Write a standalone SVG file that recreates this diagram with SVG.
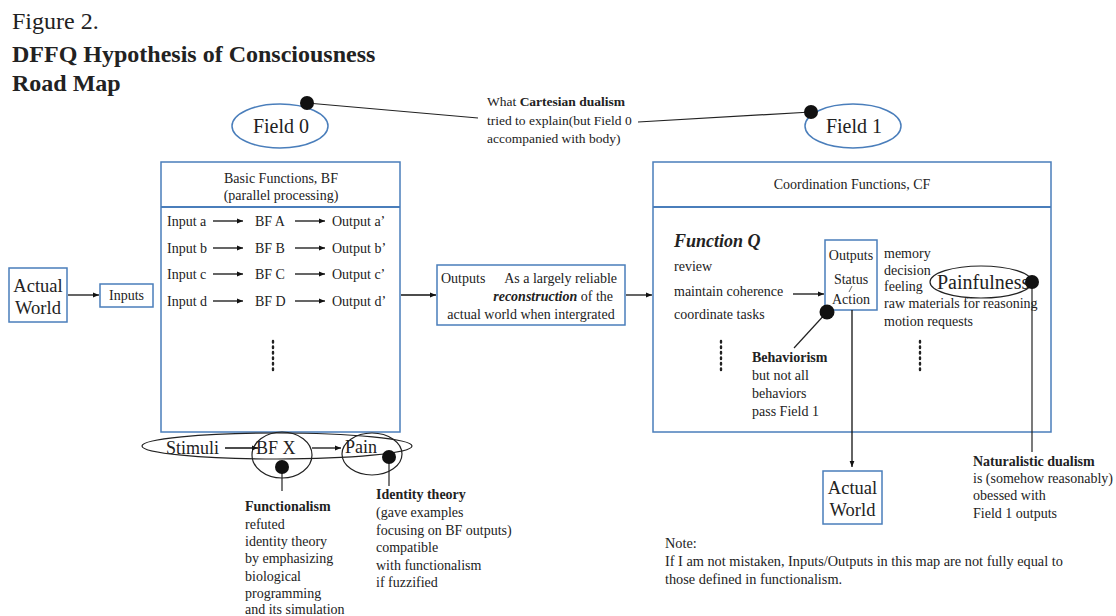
<svg xmlns="http://www.w3.org/2000/svg" width="1116" height="616" viewBox="0 0 1116 616">
<defs>
<marker id="ah" viewBox="0 0 10 10" refX="10" refY="5" markerWidth="8" markerHeight="6" markerUnits="userSpaceOnUse" orient="auto"><path d="M0,1 L10,5 L0,9 Z" fill="#111"/></marker>
<style>
text{font-family:"Liberation Serif","Times New Roman",serif;fill:#222;font-size:14px}
.b{font-weight:bold}
.bi{font-weight:bold;font-style:italic}
.box{fill:#fff;stroke:#4a7ebb;stroke-width:1.5}
.bell{fill:none;stroke:#4a7ebb;stroke-width:1.5}
.ell{fill:none;stroke:#222;stroke-width:1.2}
.ln{stroke:#222;stroke-width:1.2;fill:none}
.ar{stroke:#111;stroke-width:1.3;fill:none;marker-end:url(#ah)}
.dot{fill:#111}
.dots{stroke:#222;stroke-width:2.4;stroke-dasharray:1.5 4;stroke-linecap:round}
.big{font-size:18px}
.aw{font-size:18.5px}
.fld{font-size:20px}
.ttl{font-size:24px}
.sm{font-size:13.5px}
.nt{font-size:14.3px}
</style>
</defs>
<rect width="1116" height="616" fill="#fff"/>

<g id="title">
<text x="12" y="29" class="ttl">Figure 2.</text>
<text x="12" y="62" class="ttl b">DFFQ Hypothesis of Consciousness</text>
<text x="12" y="91" class="ttl b">Road Map</text>
</g>

<g id="field0">
<ellipse cx="280" cy="126" rx="48" ry="22" class="bell"/>
<text x="281" y="133" text-anchor="middle" class="fld">Field 0</text>
</g>
<g id="field1">
<ellipse cx="853" cy="126" rx="48" ry="22" class="bell"/>
<text x="854" y="133" text-anchor="middle" class="fld">Field 1</text>
</g>

<g id="cartesian">
<text x="487" y="106" class="sm">What <tspan class="b">Cartesian dualism</tspan></text>
<text x="487" y="125" class="sm">tried to explain(but Field 0</text>
<text x="487" y="143" class="sm">accompanied with body)</text>
</g>

<g id="actual-world-1">
<rect x="9" y="268" width="58" height="54" class="box"/>
<text x="38" y="292" text-anchor="middle" class="aw">Actual</text>
<text x="38" y="314" text-anchor="middle" class="aw">World</text>
</g>

<g id="inputs">
<rect x="100" y="284" width="53" height="23" class="box"/>
<text x="126.5" y="300" text-anchor="middle">Inputs</text>
</g>

<g id="bf">
<rect x="161" y="162" width="239" height="270" class="box"/>
<line x1="161" y1="207" x2="400" y2="207" stroke="#4a7ebb" stroke-width="2.2"/>
<text x="281" y="183" text-anchor="middle">Basic Functions, BF</text>
<text x="281" y="200" text-anchor="middle">(parallel processing)</text>
<text x="167" y="226">Input a</text>
<text x="255" y="226">BF A</text>
<text x="332" y="226">Output a’</text>
<text x="167" y="253">Input b</text>
<text x="255" y="253">BF B</text>
<text x="332" y="253">Output b’</text>
<text x="167" y="279">Input c</text>
<text x="255" y="279">BF C</text>
<text x="332" y="279">Output c’</text>
<text x="167" y="306">Input d</text>
<text x="255" y="306">BF D</text>
<text x="332" y="306">Output d’</text>
<line x1="273" y1="341" x2="273" y2="372" class="dots"/>
</g>

<g id="outputs">
<rect x="437" y="265" width="188" height="60" class="box"/>
<text x="441" y="283">Outputs</text>
<text x="617" y="283" text-anchor="end">As a largely reliable</text>
<text x="613" y="301" text-anchor="end"><tspan class="bi">reconstruction</tspan> of the</text>
<text x="531" y="319" text-anchor="middle">actual world when intergrated</text>
</g>

<g id="cf">
<rect x="653" y="162" width="398" height="270" class="box"/>
<line x1="653" y1="207" x2="1051" y2="207" stroke="#4a7ebb" stroke-width="2.2"/>
<text x="852" y="189" text-anchor="middle">Coordination Functions, CF</text>
<text x="674" y="247" class="bi big">Function Q</text>
<text x="674" y="271">review</text>
<text x="674" y="296">maintain coherence</text>
<text x="674" y="319">coordinate tasks</text>
<line x1="721" y1="341" x2="721" y2="372" class="dots"/>
<text x="884" y="258">memory</text>
<text x="884" y="275">decision</text>
<text x="884" y="291">feeling</text>
<text x="884" y="308">raw materials for reasoning</text>
<text x="884" y="326">motion requests</text>
<line x1="920" y1="341" x2="920" y2="372" class="dots"/>
</g>

<g id="osa">
<rect x="825" y="240" width="52" height="70" class="box"/>
<text x="851" y="260" text-anchor="middle">Outputs</text>
<text x="851" y="284" text-anchor="middle">Status</text>
<text x="851" y="304" text-anchor="middle">Action</text>
<line x1="849" y1="292" x2="852" y2="286" stroke="#444" stroke-width="0.8"/>
</g>

<g id="painfulness">
<ellipse cx="981" cy="282" rx="51" ry="16" class="ell"/>
<text x="937" y="289" style="font-size:20px">Painfulness</text>
</g>

<g id="actual-world-2">
<rect x="823" y="471" width="59" height="53" class="box"/>
<text x="852.5" y="494" text-anchor="middle" class="aw">Actual</text>
<text x="852.5" y="516" text-anchor="middle" class="aw">World</text>
</g>

<g id="stimuli-chain">
<ellipse cx="277" cy="446" rx="135" ry="13" class="ell"/>
<ellipse cx="282" cy="455" rx="30" ry="23" class="ell"/>
<ellipse cx="372" cy="454" rx="30" ry="21" class="ell"/>
<text x="166" y="454" class="big">Stimuli</text>
<text x="256" y="454" class="big">BF X</text>
<text x="345" y="453" class="big">Pain</text>
</g>

<g id="functionalism">
<text x="245" y="511" class="b">Functionalism</text>
<text x="245" y="529">refuted</text>
<text x="245" y="546">identity theory</text>
<text x="245" y="563">by emphasizing</text>
<text x="245" y="581">biological</text>
<text x="245" y="598">programming</text>
<text x="245" y="614">and its simulation</text>
</g>

<g id="identity">
<text x="376" y="499" class="b">Identity theory</text>
<text x="376" y="517">(gave examples</text>
<text x="376" y="535">focusing on BF outputs)</text>
<text x="376" y="552">compatible</text>
<text x="376" y="570">with functionalism</text>
<text x="376" y="587">if fuzzified</text>
</g>

<g id="behaviorism">
<text x="752" y="362" class="b">Behaviorism</text>
<text x="752" y="380">but not all</text>
<text x="752" y="398">behaviors</text>
<text x="752" y="416">pass Field 1</text>
</g>

<g id="naturalistic">
<text x="973" y="466" class="b">Naturalistic dualism</text>
<text x="973" y="483">is (somehow reasonably)</text>
<text x="973" y="500">obessed with</text>
<text x="973" y="518">Field 1 outputs</text>
</g>

<g id="note">
<text x="665" y="548" class="nt">Note:</text>
<text x="665" y="566" class="nt">If I am not mistaken, Inputs/Outputs in this map are not fully equal to</text>
<text x="665" y="584" class="nt">those defined in functionalism.</text>
</g>

<g id="connectors">
<line x1="307" y1="103" x2="478" y2="118" class="ln"/>
<line x1="638" y1="122" x2="811" y2="112" class="ln"/>
<line x1="68" y1="295" x2="99" y2="295" class="ar"/>
<line x1="213" y1="221" x2="243" y2="221" class="ar"/>
<line x1="295" y1="221" x2="325" y2="221" class="ar"/>
<line x1="213" y1="248" x2="243" y2="248" class="ar"/>
<line x1="295" y1="248" x2="325" y2="248" class="ar"/>
<line x1="213" y1="274" x2="243" y2="274" class="ar"/>
<line x1="295" y1="274" x2="325" y2="274" class="ar"/>
<line x1="213" y1="301" x2="243" y2="301" class="ar"/>
<line x1="295" y1="301" x2="325" y2="301" class="ar"/>
<line x1="401" y1="295" x2="436" y2="295" class="ar"/>
<line x1="626" y1="295" x2="652" y2="295" class="ar"/>
<line x1="793" y1="294" x2="824" y2="294" class="ar"/>
<line x1="852" y1="310" x2="852" y2="467" class="ar"/>
<line x1="827" y1="312" x2="794" y2="348" class="ln"/>
<line x1="1032" y1="282" x2="1032" y2="452" class="ln"/>
<line x1="225" y1="448" x2="258" y2="448" class="ar"/>
<line x1="312" y1="448" x2="341" y2="448" class="ar"/>
<line x1="282" y1="468" x2="282" y2="491" class="ln"/>
<line x1="389" y1="457" x2="389" y2="486" class="ln"/>
<circle cx="307" cy="103" r="7" class="dot"/>
<circle cx="811" cy="112" r="7" class="dot"/>
<circle cx="827" cy="312" r="7.5" class="dot"/>
<circle cx="1032" cy="282" r="7" class="dot"/>
<circle cx="282" cy="467" r="7" class="dot"/>
<circle cx="389" cy="457" r="7" class="dot"/>
</g>
</svg>
